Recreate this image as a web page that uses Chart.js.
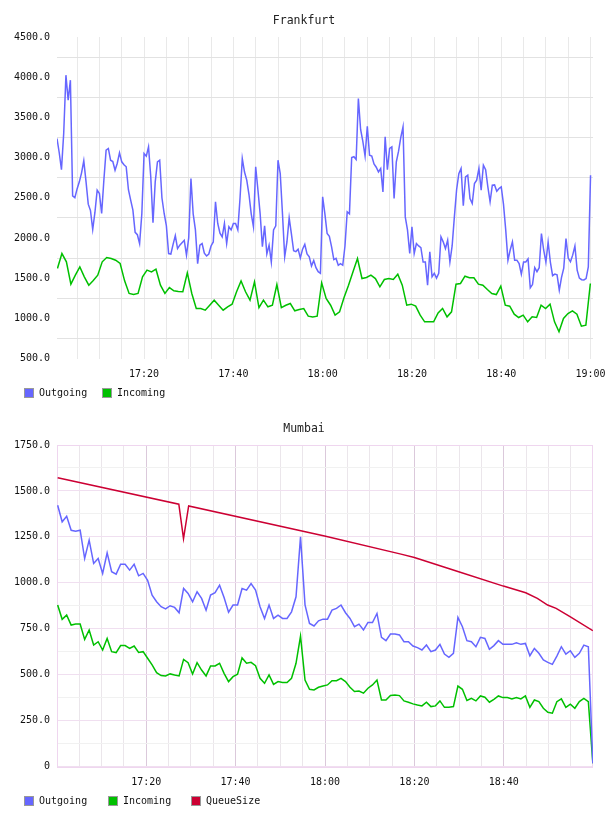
<!DOCTYPE html>
<html>
<head>
<meta charset="utf-8">
<title>Frankfurt / Mumbai</title>
<script src="https://cdn.jsdelivr.net/npm/chart.js@4.4.1/dist/chart.umd.min.js"></script>
<style>
  html, body { margin: 0; padding: 0; background: #fff; }
  canvas { display: block; }
</style>
</head>
<body>
<canvas id="frankfurt" width="608" height="408"></canvas>
<canvas id="mumbai" width="608" height="408"></canvas>
<script>
// all times are minutes after 17:00
const timeTickMinutes = [20, 40, 60, 80, 100, 120];
const timeTickLabels = ['17:20', '17:40', '18:00', '18:20', '18:40', '19:00'];

const frankfurtYLabels = [500, 1000, 1500, 2000, 2500, 3000, 3500, 4000, 4500];
const mumbaiYLabels = [0, 250, 500, 750, 1000, 1250, 1500, 1750];

// Frankfurt, sampled every 30 s
const frankfurtOutStart = 0.5, frankfurtOutStep = 0.5;
const frankfurtOutgoing = [
  3237, 3060, 2850, 3300, 4025, 3714, 3963, 2524, 2500, 2610,
  2698, 2810, 2960, 2700, 2420, 2340, 2105, 2320, 2594, 2553,
  2304, 2720, 3092, 3113, 2967, 2950, 2843, 2930, 3059, 2947,
  2910, 2885, 2600, 2470, 2345, 2070, 2040, 1930, 2300, 3050,
  3017, 3133, 2760, 2188, 2698, 2947, 2967, 2500, 2304, 2150,
  1806, 1800, 1920, 2030, 1868, 1910, 1940, 1970, 1786, 2000,
  2740, 2300, 2100, 1680, 1910, 1930, 1810, 1775, 1800, 1900,
  1950, 2450, 2180, 2060, 2014, 2180, 1930, 2140, 2100, 2180,
  2180, 2100, 2500, 2988, 2820, 2720, 2540, 2300, 2138, 2884,
  2600, 2300, 1890, 2150, 1800, 1910, 1700, 2100, 2150, 2967,
  2800, 2300, 1765, 1950, 2250, 2050, 1840, 1830, 1860, 1750,
  1860, 1920, 1800, 1765, 1650, 1720, 1630, 1580, 1560, 2511,
  2300, 2055, 2020, 1890, 1730, 1745, 1660, 1680, 1660, 1900,
  2325, 2300, 3000, 3010, 2976, 3735, 3350, 3200, 3017, 3390,
  3030, 3020, 2920, 2880, 2822, 2864, 2573, 3258, 2850, 3113,
  3133, 2490, 2947, 3080, 3250, 3382, 2262, 2100, 1806, 2138,
  1806, 1930, 1900, 1880, 1700, 1700, 1412, 1827, 1516, 1560,
  1500, 1560, 2014, 1951, 1868, 1972, 1700, 1900, 2262, 2600,
  2800, 2864, 2400, 2760, 2781, 2490, 2428, 2677, 2719, 2864,
  2594, 2905, 2850, 2636, 2450, 2656, 2660, 2580, 2615, 2636,
  2420, 2100, 1723, 1850, 1950, 1723, 1723, 1680, 1550, 1700,
  1700, 1740, 1380, 1420, 1630, 1580, 1630, 2055, 1850, 1700,
  1950, 1700, 1530, 1550, 1540, 1350, 1510, 1625, 1993, 1750,
  1703, 1786, 1900, 1600, 1500, 1480, 1478, 1495, 1640, 2781
];

// Frankfurt incoming, about one sample a minute
const frankfurtInStart = 0.6, frankfurtInStep = 1.003;
const frankfurtIncoming = [
  1620, 1806, 1703, 1425, 1537, 1640, 1516, 1412, 1470, 1537,
  1703, 1757, 1744, 1723, 1682, 1466, 1309, 1296, 1309, 1516,
  1600, 1578, 1611, 1412, 1309, 1383, 1342, 1335, 1330, 1566,
  1309, 1122, 1122, 1101, 1163, 1226, 1163, 1101, 1143, 1176,
  1330, 1466, 1330, 1226, 1454, 1134, 1226, 1143, 1163, 1420,
  1134, 1163, 1184, 1093, 1110, 1122, 1027, 1018, 1027, 1441,
  1246, 1163, 1039, 1081, 1259, 1412, 1578, 1744, 1495, 1508,
  1537, 1495, 1392, 1483, 1495, 1483, 1549, 1412, 1163, 1176,
  1151, 1039, 956, 956, 956, 1068, 1122, 1018, 1081, 1425,
  1433, 1524, 1504, 1504, 1425, 1412, 1358, 1309, 1296, 1400,
  1163, 1151, 1052, 1010, 1039, 956, 1018, 1010, 1163, 1122,
  1176, 956, 832, 998, 1060, 1093, 1052, 902, 915, 1433
];

// Mumbai, about one sample a minute
const mumbaiStart = 0.2, mumbaiStep = 1.006;
const mumbaiOutgoing = [
  1422, 1332, 1362, 1286, 1281, 1286, 1132, 1232, 1105, 1132,
  1051, 1163, 1060, 1047, 1101, 1101, 1069, 1101, 1038, 1051,
  1014, 933, 897, 870, 858, 875, 866, 837, 969, 942,
  897, 951, 915, 851, 933, 946, 987, 920, 840, 879,
  879, 969, 960, 996, 960, 870, 806, 879, 806, 824,
  806, 806, 842, 924, 1250, 880, 779, 765, 793, 802,
  802, 851, 861, 879, 837, 806, 761, 775, 743, 784,
  784, 833, 703, 685, 721, 721, 716, 679, 679, 656,
  647, 634, 661, 625, 634, 665, 612, 594, 616, 812,
  761, 685, 679, 652, 703, 697, 638, 658, 685, 665,
  665, 665, 674, 665, 670, 603, 643, 616, 580, 567,
  556, 601, 652, 612, 630, 594, 616, 661, 652, 18
];
const mumbaiIncoming = [
  879, 801, 824, 770, 775, 775, 692, 743, 661, 679,
  634, 697, 625, 620, 658, 658, 643, 656, 621, 625,
  589, 553, 511, 495, 493, 504, 498, 493, 583, 565,
  504, 565, 525, 493, 547, 547, 562, 507, 462, 489,
  502, 591, 562, 567, 549, 480, 453, 498, 447, 462,
  457, 457, 480, 562, 710, 471, 420, 417, 431, 438,
  444, 467, 467, 480, 462, 431, 408, 411, 399, 426,
  444, 471, 362, 362, 386, 389, 386, 357, 350, 341,
  335, 330, 350, 326, 330, 357, 322, 322, 326, 438,
  420, 359, 371, 357, 384, 377, 350, 366, 384, 375,
  375, 368, 375, 368, 384, 322, 362, 353, 317, 295,
  290, 353, 368, 322, 339, 317, 353, 371, 353, 18
];
const mumbaiQueueMinutes = [0.2, 27.3, 28.35, 29.5, 59.9, 77.0, 80.0, 89.9, 99.9, 104.9, 107.5, 109.8, 111.7, 114.9, 119.91];
const mumbaiQueueSize = [1572, 1428, 1241, 1418, 1255, 1156, 1138, 1060, 982, 946, 915, 879, 861, 815, 739];

const OUT_COLOR = '#6666ff';
const IN_COLOR = '#00c000';
const QUEUE_COLOR = '#cc0033';
const FONT = '"DejaVu Sans Mono", monospace';

function regular(values, start, step) {
  return values.map((v, i) => ({ x: start + i * step, y: v }));
}

function timeLabel(value) {
  const i = timeTickMinutes.indexOf(value);
  return i >= 0 ? timeTickLabels[i] : '';
}

// title, legend and plot frame
const decor = {
  id: 'decor',
  beforeDatasetsDraw(chart, args, opts) {
    if (!opts.frame) return;
    const { ctx, chartArea: a } = chart;
    ctx.save();
    ctx.strokeStyle = opts.frame;
    ctx.lineWidth = 1;
    ctx.strokeRect(Math.round(a.left) + 0.5, Math.round(a.top) + 0.5,
      Math.round(a.right - a.left) - 1, Math.round(a.bottom - a.top));
    ctx.restore();
  },
  afterDraw(chart, args, opts) {
    const ctx = chart.ctx;
    ctx.save();
    ctx.fillStyle = '#222';
    ctx.font = '11.5px ' + FONT;
    ctx.textAlign = 'center';
    ctx.textBaseline = 'middle';
    ctx.fillText(opts.title, chart.width / 2, 21);

    ctx.font = '10px ' + FONT;
    ctx.textAlign = 'left';
    const sets = chart.data.datasets;
    const widest = Math.max(...sets.map(d => ctx.measureText(d.label).width));
    const col = 10 + 5 + widest + 14.5;
    sets.forEach((d, i) => {
      const x = Math.round(24 + i * col);
      ctx.fillStyle = d.borderColor;
      ctx.fillRect(x, 388, 10, 10);
      ctx.strokeStyle = '#999';
      ctx.lineWidth = 1;
      ctx.strokeRect(x + 0.5, 388.5, 9, 9);
      ctx.fillStyle = '#111';
      ctx.fillText(d.label, x + 15, 393);
    });
    ctx.restore();
  }
};

function buildChart(id, cfg) {
  return new Chart(document.getElementById(id), {
    type: 'line',
    data: {
      datasets: cfg.series.map(s => ({
        label: s.label,
        data: s.points,
        borderColor: s.color,
        backgroundColor: s.color,
        borderWidth: 1.5,
        pointRadius: 0,
        tension: 0,
        fill: false
      }))
    },
    options: {
      responsive: false,
      animation: false,
      devicePixelRatio: 1,
      layout: { padding: { top: 37, right: 15, bottom: 29.5, left: 0 } },
      plugins: {
        legend: { display: false },
        title: { display: false },
        tooltip: { enabled: false },
        decor: { title: cfg.title, frame: cfg.frame }
      },
      scales: {
        x: {
          type: 'linear',
          min: cfg.xMin,
          max: cfg.xMax,
          border: { display: false },
          grid: { drawTicks: false, color: cfg.xGrid },
          ticks: {
            stepSize: 5,
            includeBounds: false,
            autoSkip: false,
            maxRotation: 0,
            padding: 10,
            color: '#111',
            font: { family: FONT, size: 10 },
            callback: v => timeLabel(v)
          },
          afterFit: s => { s.height = 20; s.paddingLeft = 0; s.paddingRight = 0; }
        },
        y: {
          min: cfg.yMin,
          max: cfg.yMax,
          border: { display: false },
          grid: { drawTicks: false, color: cfg.yGrid },
          ticks: {
            stepSize: cfg.yStep,
            padding: 7,
            color: '#111',
            font: { family: FONT, size: 10 },
            callback: cfg.yLabel
          },
          afterFit: s => { s.width = 57; s.paddingTop = 0; s.paddingBottom = 0; }
        }
      }
    },
    plugins: [decor]
  });
}

buildChart('frankfurt', {
  title: 'Frankfurt',
  xMin: 0.5, xMax: 120.55,
  yMin: 500, yMax: 4500, yStep: 250,
  yLabel: v => frankfurtYLabels.includes(v) ? v.toFixed(1) : '',
  xGrid: '#e9e9e9',
  yGrid: c => (c.tick && frankfurtYLabels.includes(c.tick.value)) ? 'rgba(0,0,0,0)' : '#e2e2e2',
  series: [
    { label: 'Outgoing', color: OUT_COLOR, points: regular(frankfurtOutgoing, frankfurtOutStart, frankfurtOutStep) },
    { label: 'Incoming', color: IN_COLOR, points: regular(frankfurtIncoming, frankfurtInStart, frankfurtInStep) }
  ]
});

buildChart('mumbai', {
  title: 'Mumbai',
  frame: '#efd6ef',
  xMin: 0.05, xMax: 119.95,
  yMin: 0, yMax: 1750, yStep: 125,
  yLabel: v => mumbaiYLabels.includes(v) ? (v === 0 ? '0' : v.toFixed(1)) : '',
  xGrid: c => (c.tick && timeTickMinutes.includes(c.tick.value)) ? '#dbc9db' : '#ebe6eb',
  yGrid: c => (c.tick && mumbaiYLabels.includes(c.tick.value)) ? '#f0dff0' : '#f1f1f1',
  series: [
    { label: 'Outgoing', color: OUT_COLOR, points: regular(mumbaiOutgoing, mumbaiStart, mumbaiStep) },
    { label: 'Incoming', color: IN_COLOR, points: regular(mumbaiIncoming, mumbaiStart, mumbaiStep) },
    { label: 'QueueSize', color: QUEUE_COLOR, points: mumbaiQueueMinutes.map((t, i) => ({ x: t, y: mumbaiQueueSize[i] })) }
  ]
});
</script>
</body>
</html>
